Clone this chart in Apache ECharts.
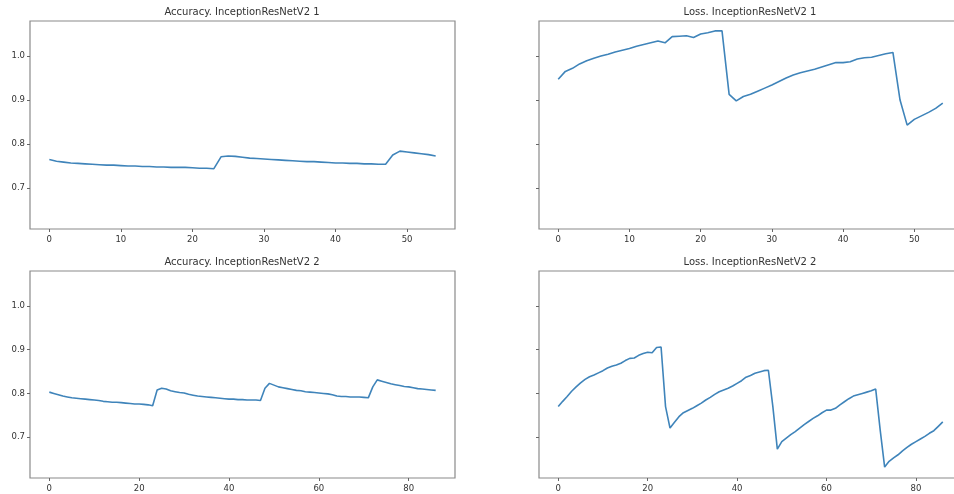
<!DOCTYPE html>
<html><head><meta charset="utf-8">
<script src="https://cdn.jsdelivr.net/npm/echarts@6/dist/echarts.min.js"></script>
<style>html,body{margin:0;padding:0;background:#fff;overflow:hidden}#c{width:970px;height:494px}</style>
</head><body><div id="c"></div>
<script>
const titles = ['Accuracy. InceptionResNetV2 1','Loss. InceptionResNetV2 1','Accuracy. InceptionResNetV2 2','Loss. InceptionResNetV2 2'];
const acc1 = [0.765,0.761,0.759,0.757,0.756,0.755,0.754,0.753,0.752,0.752,0.751,0.750,0.750,0.749,0.749,0.748,0.748,0.747,0.747,0.747,0.746,0.745,0.745,0.744,0.771,0.773,0.772,0.770,0.768,0.767,0.766,0.765,0.764,0.763,0.762,0.761,0.760,0.760,0.759,0.758,0.757,0.757,0.756,0.756,0.755,0.755,0.754,0.754,0.775,0.784,0.782,0.780,0.778,0.776,0.773];
const loss1 = [0.947,0.965,0.972,0.982,0.989,0.995,1.000,1.004,1.009,1.013,1.017,1.022,1.026,1.030,1.034,1.030,1.044,1.045,1.046,1.042,1.050,1.053,1.057,1.057,0.913,0.898,0.908,0.913,0.920,0.927,0.934,0.942,0.950,0.957,0.962,0.966,0.970,0.975,0.980,0.985,0.985,0.987,0.993,0.996,0.997,1.001,1.005,1.008,0.900,0.843,0.856,0.864,0.872,0.881,0.893];
const acc2 = [0.803,0.800,0.797,0.794,0.792,0.790,0.789,0.788,0.787,0.786,0.785,0.784,0.782,0.781,0.780,0.780,0.779,0.778,0.777,0.776,0.776,0.775,0.774,0.772,0.808,0.812,0.810,0.806,0.804,0.802,0.801,0.798,0.796,0.794,0.793,0.792,0.791,0.790,0.789,0.788,0.787,0.787,0.786,0.786,0.785,0.785,0.785,0.784,0.812,0.823,0.819,0.815,0.813,0.811,0.809,0.807,0.806,0.804,0.803,0.802,0.801,0.800,0.799,0.797,0.794,0.793,0.793,0.792,0.792,0.792,0.791,0.790,0.815,0.831,0.828,0.825,0.822,0.820,0.818,0.816,0.815,0.813,0.811,0.810,0.809,0.808,0.807];
const loss2 = [0.770,0.782,0.793,0.805,0.815,0.824,0.832,0.838,0.842,0.847,0.852,0.858,0.862,0.865,0.869,0.875,0.880,0.881,0.887,0.891,0.894,0.893,0.905,0.906,0.770,0.721,0.734,0.747,0.756,0.761,0.766,0.772,0.778,0.785,0.791,0.798,0.804,0.808,0.812,0.817,0.823,0.829,0.837,0.841,0.846,0.849,0.852,0.853,0.770,0.673,0.690,0.698,0.706,0.713,0.721,0.729,0.736,0.743,0.749,0.756,0.762,0.762,0.766,0.774,0.781,0.788,0.794,0.797,0.800,0.803,0.806,0.810,0.717,0.632,0.645,0.653,0.660,0.669,0.677,0.684,0.690,0.696,0.702,0.709,0.715,0.725,0.735];
const xTicksTop = [0,10,20,30,40,50];
const xTicksBottom = [0,20,40,60,80];
const yTicks = [0.7,0.8,0.9,1.0];

const seriesData = [acc1, loss1, acc2, loss2];
const xTickSets = [xTicksTop, xTicksTop, xTicksBottom, xTicksBottom];
const grids = [
  {left:30, top:21, width:425, height:208},
  {left:539, top:21, width:423, height:208},
  {left:30, top:271, width:425, height:207},
  {left:539, top:271, width:423, height:207}
];
const titleCenters = [[242,12],[750,12],[242,262],[750,262]];
const txt = '#333';
const font = 'DejaVu Sans';

const option = {
  animation:false,
  backgroundColor:'#fff',
  grid: grids.map(g => Object.assign({show:true, borderColor:'#8a8a8a', borderWidth:1.2, backgroundColor:'#fff'}, g)),
  xAxis: seriesData.map((d,k) => {
    const n = d.length - 1, pad = n*0.05;
    return {type:'value', gridIndex:k, min:-pad, max:n+pad,
      axisLine:{show:false, onZero:false}, splitLine:{show:false},
      axisTick:{show:true, length:3, customValues:xTickSets[k], lineStyle:{color:'#666'}},
      axisLabel:{show:true, customValues:xTickSets[k], margin:6, fontSize:8.5, color:txt, fontFamily:font}};
  }),
  yAxis: seriesData.map((d,k) => ({type:'value', gridIndex:k, min:0.607, max:1.0795,
      axisLine:{show:false, onZero:false}, splitLine:{show:false},
      axisTick:{show:true, length:3, customValues:yTicks, lineStyle:{color:'#666'}},
      axisLabel:{show:(k%2===0), customValues:yTicks, margin:5, fontSize:8.5, color:txt, fontFamily:font,
        formatter:v=>v.toFixed(1)}})),
  series: seriesData.map((d,k) => ({type:'line', xAxisIndex:k, yAxisIndex:k,
      data:d.map((v,i)=>[i,v]), showSymbol:false, symbol:'none',
      lineStyle:{color:'#3f84ba', width:1.6}})),
  graphic: titles.map((t,k) => ({type:'text', x:titleCenters[k][0], y:titleCenters[k][1],
      style:{text:t, fill:txt, font:'10px "DejaVu Sans"', textAlign:'center', textVerticalAlign:'middle'}}))
};
const chart = echarts.init(document.getElementById('c'), null, {renderer:'canvas'});
chart.setOption(option);
</script></body></html>
